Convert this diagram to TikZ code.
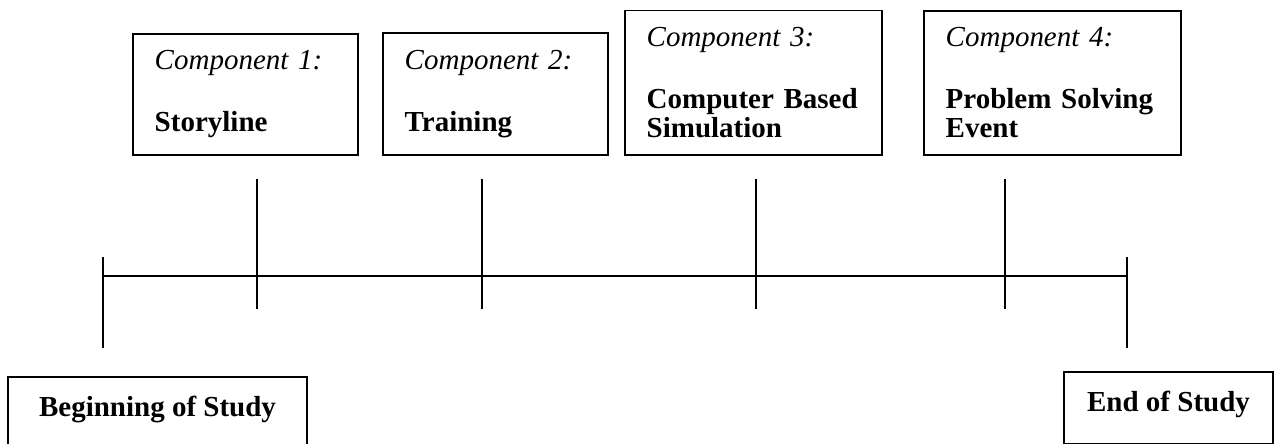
\documentclass[tikz,border=0pt]{standalone}
\usepackage{fontspec}
\setmainfont{Liberation Serif}
\usepackage{tikz}
\usetikzlibrary{positioning}
\colorlet{tlink}{black}
\tikzset{
  tlstage/.style={
    draw=tlink,
    line width=0.8pt,
    font=\fontsize{12}{12}\selectfont,
    inner xsep=9pt,
    inner ysep=7pt
  },
  tlcomp/.style={tlstage,anchor=south west,align=left},
  tlnarrow/.style={tlcomp,text width=2.64cm},
  tlwide/.style={tlcomp,text width=3.106cm},
  tlend/.style={tlstage,anchor=north,inner ysep=8.3pt,text height=8pt,
                font=\fontsize{12}{12}\selectfont\bfseries},
  tlaxis/.style={line width=0.8pt,tlink}
}

\begin{document}
\begin{tikzpicture}[x=1cm,y=1cm]
  \useasboundingbox (0,0) rectangle (18.529,6.457);

  % the four components above the line
  \node[tlnarrow] (c1) at (1.920,4.189)
    {\textit{Component 1:}\\[13.7pt]\textbf{Storyline}};
  \node[tlnarrow] (c2) at (5.556,4.189)
    {\textit{Component 2:}\\[13.7pt]\textbf{Training}};
  \node[tlwide] (c3) at (9.075,4.189)
    {\textit{Component 3:}\\[13.7pt]\textbf{Computer Based}\\\textbf{Simulation}};
  \node[tlwide] (c4) at (13.424,4.189)
    {\textit{Component 4:}\\[13.7pt]\textbf{Problem Solving}\\\textbf{Event}};

  % start and finish
  \node[tlend,minimum width=4.349cm,text depth=8pt] (begin) at (2.291,0.989)
    {Beginning of Study};
  \node[tlend,minimum width=3.040cm,text depth=5.1pt] (finish) at (16.995,1.062)
    {End of Study};

  % timeline
  \coordinate (start) at (1.498,2.443);
  \coordinate (stop) at (16.391,2.443);
  \coordinate (t1) at (3.738,2.443);
  \coordinate (t2) at (7.010,2.443);
  \coordinate (t3) at (10.995,2.443);
  \coordinate (t4) at (14.617,2.443);

  \draw[tlaxis] (start) -- (stop);
  \draw[tlaxis] (start) ++(0,0.277) -- ++(0,-1.324);
  \draw[tlaxis] (stop) ++(0,0.277) -- ++(0,-1.324);
  \foreach \t in {1,...,4}
    \draw[tlaxis] (t\t) ++(0,1.411) -- ++(0,-1.891);
\end{tikzpicture}
\end{document}
